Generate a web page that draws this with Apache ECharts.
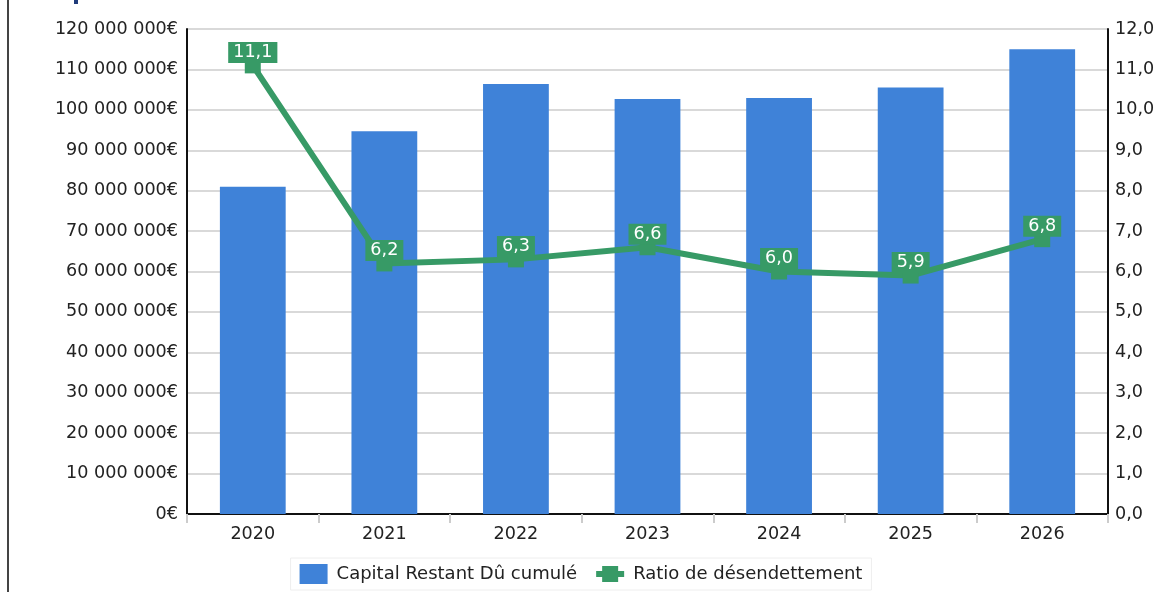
<!DOCTYPE html>
<html><head><meta charset="utf-8">
<script src="https://cdn.jsdelivr.net/npm/echarts@6/dist/echarts.min.js"></script>
<style>html,body{margin:0;padding:0;background:#fff}#c{width:1162px;height:592px}</style>
</head><body><div id="c"></div>
<script>
const categories = ['2020','2021','2022','2023','2024','2025','2026'];
const capitalValues = [81000000, 94700000, 106400000, 102700000, 102900000, 105500000, 115000000];
const ratioValues = [11.1, 6.2, 6.3, 6.6, 6.0, 5.9, 6.8];
const seriesNames = ['Capital Restant Dû cumulé', 'Ratio de désendettement'];

const FONT = '"DejaVu Sans", sans-serif';
const FS = 17.6;
function fmtEuro(v){ return String(Math.round(v)).replace(/\B(?=(\d{3})+(?!\d))/g,' ') + '€'; }
function fmtRatio(v){ return v.toFixed(1).replace('.', ','); }

const chart = echarts.init(document.getElementById('c'), null, {renderer:'canvas'});
chart.setOption({
  animation:false,
  backgroundColor:'#fff',
  textStyle:{fontFamily:FONT},
  grid:{left:187, right:54, top:29, bottom:78, containLabel:false},
  legend:{
    bottom:2, left:'center', itemWidth:28, itemHeight:20, itemGap:16, itemSpacing:8,
    borderColor:'#eeeeee', borderWidth:1, padding:[6,9],
    textStyle:{fontFamily:FONT, fontSize:18, color:'#222', padding:[0,0,0,4]},
    data:[{name:seriesNames[0], icon:'rect'},
          {name:seriesNames[1], itemStyle:{color:'#379a66'}, lineStyle:{width:6, color:'#379a66'}}]
  },
  xAxis:{
    type:'category', data:categories, boundaryGap:true,
    axisLine:{lineStyle:{color:'#111', width:2}},
    axisTick:{show:true, length:9, lineStyle:{color:'#ccc', width:2}},
    axisLabel:{fontFamily:FONT, fontSize:FS, color:'#222', margin:11}
  },
  yAxis:[
    {type:'value', min:0, max:120000000, interval:10000000, position:'left',
     axisLine:{show:true, lineStyle:{color:'#111', width:2}},
     axisTick:{show:false},
     axisLabel:{fontFamily:FONT, fontSize:FS, color:'#222', margin:9, formatter:fmtEuro},
     splitLine:{show:true, lineStyle:{color:'#cccccc', width:1.5}}},
    {type:'value', min:0, max:12, interval:1, position:'right',
     axisLine:{show:true, lineStyle:{color:'#111', width:2}},
     axisTick:{show:false},
     axisLabel:{fontFamily:FONT, fontSize:FS, color:'#222', margin:7, formatter:fmtRatio},
     splitLine:{show:false}}
  ],
  series:[
    {name:seriesNames[0], type:'bar', data:capitalValues, yAxisIndex:0, barWidth:'50%',
     itemStyle:{color:'#3f82d8'}},
    {name:seriesNames[1], type:'line', data:ratioValues, yAxisIndex:1,
     symbol:'rect', symbolSize:16, showAllSymbol:true,
     lineStyle:{color:'#379a66', width:6}, itemStyle:{color:'#379a66'},
     label:{show:true, position:'inside', offset:[0,-13], formatter:p=>fmtRatio(p.value),
       backgroundColor:'#379a66', color:'#fff', fontFamily:FONT, fontSize:FS, padding:[2,5,1,5]},
     z:3}
  ],
  graphic:[
    {type:'rect', left:7, top:0, shape:{width:2, height:592}, style:{fill:'#444'}},
    {type:'rect', left:74, top:0, shape:{width:4, height:4}, style:{fill:'#1f3b7a'}}
  ]
});
</script></body></html>
